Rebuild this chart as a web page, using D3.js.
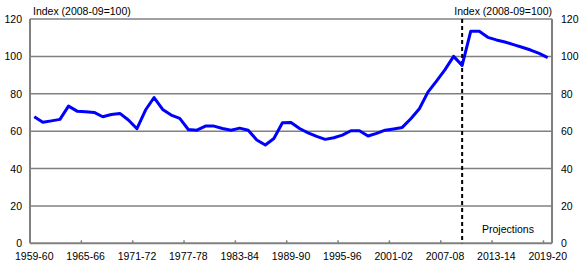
<!DOCTYPE html>
<html>
<head>
<meta charset="utf-8">
<script src="https://cdn.jsdelivr.net/npm/d3@7"></script>
<style>
  body { margin: 0; background: #fff; }
  text { font-family: "Liberation Sans", Arial, sans-serif; fill: #000; }
</style>
</head>
<body>
<div id="chart"></div>
<script>
// fiscal years 1959-60 .. 2019-20
const years = d3.range(1959, 2020).map(y => `${y}-${String((y + 1) % 100).padStart(2, "0")}`);

const index = [
  67.7, 64.8, 65.5, 66.3, 73.4, 70.7, 70.4, 70.0, 67.7, 68.9,
  69.5, 66.0, 61.3, 71.3, 78.0, 71.6, 68.6, 66.8, 60.9, 60.5,
  62.7, 62.7, 61.4, 60.5, 61.6, 60.5, 55.3, 52.6, 56.1, 64.5,
  64.6, 61.4, 59.1, 57.2, 55.6, 56.5, 57.9, 60.2, 60.2, 57.4,
  58.8, 60.5, 61.2, 62.0, 66.6, 72.0, 80.9, 86.8, 92.9, 100.0,
  95.2, 113.4, 113.4, 110.2, 108.8, 107.7, 106.3, 104.9, 103.4, 101.6,
  99.3
];

const xTickLabels = ["1959-60", "1965-66", "1971-72", "1977-78", "1983-84", "1989-90",
                     "1995-96", "2001-02", "2007-08", "2013-14", "2019-20"];
const yTicks = [0, 20, 40, 60, 80, 100, 120];
const projectionStart = "2009-10";
const axisTitle = "Index (2008-09=100)";

const W = 585, H = 264;
const margin = { top: 19, right: 33, bottom: 20.7, left: 30 };

const svg = d3.select("#chart").append("svg")
  .attr("width", W).attr("height", H);

const x = d3.scaleBand().domain(years).range([margin.left, W - margin.right]);
const y = d3.scaleLinear().domain([0, 120]).range([H - margin.bottom, margin.top]);
const cx = d => x(d) + x.bandwidth() / 2;

// gridlines
svg.append("g").selectAll("line")
  .data(yTicks.filter(t => t > 0))
  .join("line")
  .attr("x1", margin.left).attr("x2", W - margin.right)
  .attr("y1", d => y(d)).attr("y2", d => y(d))
  .attr("stroke", "#808080").attr("stroke-width", 1.5);

// frame axes
const axisColor = "#808080";
svg.append("line")
  .attr("x1", margin.left).attr("x2", margin.left)
  .attr("y1", y(0)).attr("y2", y(120))
  .attr("stroke", axisColor).attr("stroke-width", 2);
svg.append("line")
  .attr("x1", W - margin.right).attr("x2", W - margin.right)
  .attr("y1", y(0)).attr("y2", y(120))
  .attr("stroke", axisColor).attr("stroke-width", 2);
svg.append("line")
  .attr("x1", margin.left).attr("x2", W - margin.right)
  .attr("y1", y(0)).attr("y2", y(0))
  .attr("stroke", axisColor).attr("stroke-width", 2);

// x ticks (at left edge of each labelled band) + labels
svg.append("g").selectAll("line")
  .data(xTickLabels.slice(1))
  .join("line")
  .attr("x1", d => x(d)).attr("x2", d => x(d))
  .attr("y1", y(0)).attr("y2", y(0) - 3)
  .attr("stroke", axisColor).attr("stroke-width", 1.5);

svg.append("g").selectAll("text")
  .data(xTickLabels)
  .join("text")
  .attr("x", d => cx(d))
  .attr("y", y(0) + 17)
  .attr("text-anchor", "middle")
  .attr("font-size", 10.5)
  .text(d => d);

// y tick labels, both sides
svg.append("g").selectAll("text")
  .data(yTicks)
  .join("text")
  .attr("x", margin.left - 8)
  .attr("y", d => y(d) + 4)
  .attr("text-anchor", "end")
  .attr("font-size", 10.5)
  .text(d => d);

svg.append("g").selectAll("text")
  .data(yTicks)
  .join("text")
  .attr("x", W - margin.right + 9)
  .attr("y", d => y(d) + 4)
  .attr("text-anchor", "start")
  .attr("font-size", 10.5)
  .text(d => d);

// axis titles
svg.append("text")
  .attr("x", margin.left + 3).attr("y", 15)
  .attr("font-size", 10.5)
  .text(axisTitle);
svg.append("text")
  .attr("x", W - margin.right).attr("y", 15)
  .attr("text-anchor", "end")
  .attr("font-size", 10.5)
  .text(axisTitle);

// projections divider
svg.append("line")
  .attr("x1", cx(projectionStart)).attr("x2", cx(projectionStart))
  .attr("y1", y(120)).attr("y2", y(0))
  .attr("stroke", "#000").attr("stroke-width", 2)
  .attr("stroke-dasharray", "4,3");

svg.append("text")
  .attr("x", 508).attr("y", y(0) - 10)
  .attr("text-anchor", "middle")
  .attr("font-size", 10.5)
  .text("Projections");

// series
svg.append("path")
  .datum(index)
  .attr("fill", "none")
  .attr("stroke", "#0000ff")
  .attr("stroke-width", 3)
  .attr("stroke-linejoin", "round")
  .attr("d", d3.line()
    .x((d, i) => cx(years[i]))
    .y(d => y(d)));
</script>
</body>
</html>
